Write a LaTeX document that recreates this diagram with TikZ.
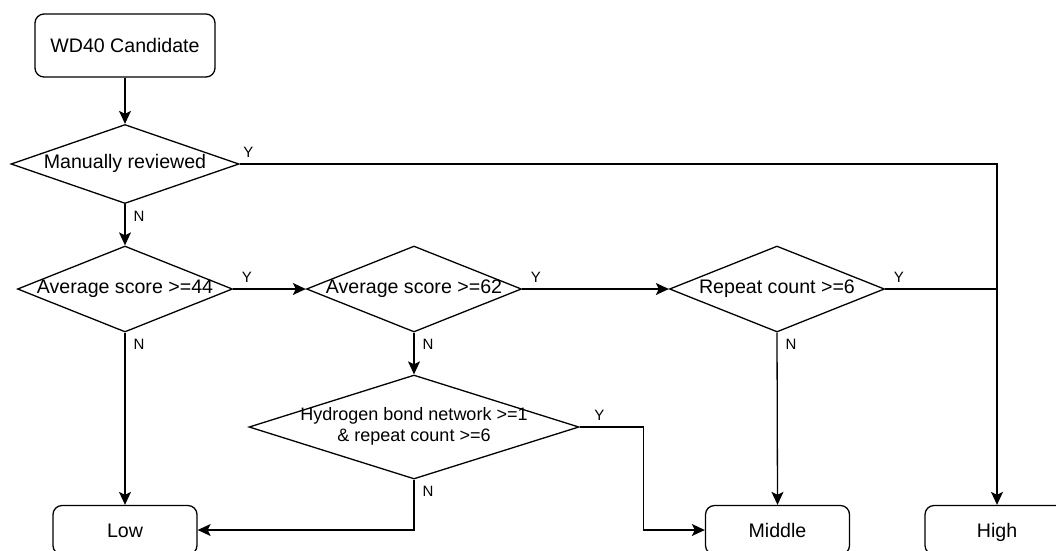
\documentclass[tikz,border=0pt]{standalone}
\usepackage{fontspec}
\setmainfont{Liberation Sans}
\usetikzlibrary{shapes.geometric,arrows.meta}
\newcommand{\dtext}[1]{\makebox[0pt]{\begin{tabular}{@{}c@{}}#1\end{tabular}}}

\begin{document}
\begin{tikzpicture}[x=1pt, y=-1pt, line width=1.3pt,
    >={Stealth[length=13pt,width=12pt,inset=3pt]},
    box/.style={draw, rounded corners=9pt, minimum width=144pt, minimum height=49pt,
        text height=14pt, text depth=0pt, font=\fontsize{19.6}{21}\selectfont},
    decision/.style={draw, diamond, inner sep=0pt, minimum width=215pt, minimum height=86pt,
        font=\fontsize{19.6}{21}\selectfont},
    ylab/.style={above right, inner sep=0pt, xshift=8pt, yshift=6pt, font=\fontsize{15}{17}\selectfont},
    nlab/.style={below right, inner sep=0pt, xshift=8pt, yshift=-6pt, font=\fontsize{15}{17}\selectfont}]
\useasboundingbox (0,0) rectangle (1056,550);

\node[box, minimum width=180pt, minimum height=63pt] (cand) at (125,45.5) {WD40 Candidate};
\node[decision, minimum width=228pt, minimum height=79pt] (manual) at (125,164) {\dtext{Manually reviewed}};
\node[decision] (avgA) at (125,289) {\dtext{Average score >=44}};
\node[decision] (avgB) at (414,289) {\dtext{Average score >=62}};
\node[decision] (rcount) at (777,289) {\dtext{Repeat count >=6}};
\node[decision, minimum width=330pt, minimum height=104pt, font=\fontsize{18}{21}\selectfont] (hbond) at (414,427)
    {\dtext{Hydrogen bond network >=1\\ \& repeat count >=6}};
\node[box] (low) at (125,530) {Low};
\node[box] (middle) at (777.5,530) {Middle};
\node[box] (high) at (997,530) {High};

\draw[->] (cand) -- (manual);
\draw[->] (manual.east) node[ylab, xshift=-5pt]{Y} -| (high.north);
\draw[->] (manual.south) node[nlab]{N} -- (avgA.north);
\draw[->] (avgA.east) node[ylab]{Y} -- (avgB.west);
\draw[->] (avgA.south) node[nlab]{N} -- (low.north);
\draw[->] (avgB.east) node[ylab]{Y} -- (rcount.west);
\draw[->] (avgB.south) node[nlab]{N} -- (hbond.north);
\draw (rcount.east) node[ylab]{Y} -- (rcount.east -| high.north);
\draw[->] (rcount.south) node[nlab]{N} -- (middle.north);
\draw[->] (hbond.east) node[ylab, xshift=6pt]{Y} -- ++(64,0) |- (middle.west);
\draw[->] (hbond.south) node[nlab]{N} |- (low.east);
\end{tikzpicture}
\end{document}
